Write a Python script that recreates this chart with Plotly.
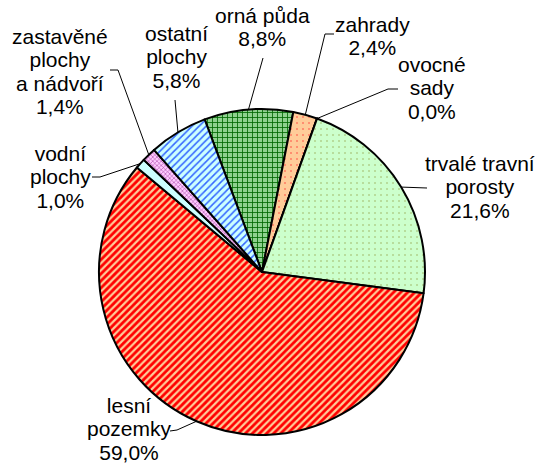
import math
import plotly.graph_objects as go

# ---- data ----
labels = ["orná půda", "zahrady", "ovocné sady", "trvalé travní porosty",
          "lesní pozemky", "vodní plochy", "zastavěné plochy a nádvoří", "ostatní plochy"]
label_lines = [["orná půda"], ["zahrady"], ["ovocné", "sady"], ["trvalé travní", "porosty"],
               ["lesní", "pozemky"], ["vodní", "plochy"], ["zastavěné", "plochy", "a nádvoří"],
               ["ostatní", "plochy"]]
values = [8.8, 2.4, 0.0, 21.6, 59.0, 1.0, 1.4, 5.8]

# ---- styles / layout ----
W, H = 542, 463
CX, CY, R = 262, 272, 163
START = -20.6  # degrees clockwise from 12 o'clock where the first slice starts

patterns = [
    dict(shape="+", fgcolor="#006600", bgcolor="#8FD18F", size=5, solidity=0.3),
    dict(shape=".", fgcolor="#FF3333", bgcolor="#FFCC99", size=6, solidity=0.05),
    dict(shape="", fgcolor="#99CC66", bgcolor="#CCFFCC", size=6, solidity=0.1),
    dict(shape=".", fgcolor="#99AA55", bgcolor="#CCFFCC", size=6, solidity=0.05),
    dict(shape="/", fgcolor="#FF0000", bgcolor="#FFCC99", size=5, solidity=0.55),
    dict(shape="", fgcolor="#CCFFFF", bgcolor="#CCFFFF", size=6, solidity=0.1),
    dict(shape="x", fgcolor="#993399", bgcolor="#FFCCFF", size=3, solidity=0.3),
    dict(shape="/", fgcolor="#3366FF", bgcolor="#CCFFFF", size=5, solidity=0.3),
]
colors = [p["bgcolor"] for p in patterns]

# label text block centres (pixels) and leader elbow points (pixels), None = straight
label_pos = [(262, 27), (372, 36), (432, 88), (480, 187), (129, 429), (60, 177), (60, 71), (176, 57)]
leader_start = [(263, 58), (334, 34), (398, 89), (427, 188), (170, 431), (92, 177), (110, 70), (175, 100)]
leader_elbow = [None, (325, 34), (388, 89), None, (177, 430), (100, 177), (118, 70), None]

def px(x):
    return x / W

def py(y):
    return 1 - y / H

fig = go.Figure(go.Pie(
    labels=labels, values=values, sort=False, direction="clockwise",
    rotation=START, textinfo="none", hoverinfo="none", showlegend=False,
    marker=dict(colors=colors, line=dict(color="black", width=2),
                pattern=dict(shape=[p["shape"] for p in patterns],
                             fgcolor=[p["fgcolor"] for p in patterns],
                             bgcolor=[p["bgcolor"] for p in patterns],
                             size=[p["size"] for p in patterns],
                             solidity=[p["solidity"] for p in patterns],
                             fillmode="replace")),
    domain=dict(x=[px(CX - R), px(CX + R)], y=[py(CY + R), py(CY - R)]),
))

total = sum(values)
cum = 0
annotations = []
shapes = []
for i, v in enumerate(values):
    mid = START + (cum + v / 2) / total * 360
    cum += v
    ex = CX + R * math.sin(math.radians(mid))
    ey = CY - R * math.cos(math.radians(mid))
    pct = f"{v:.1f}".replace(".", ",") + "%"
    lines = label_lines[i] + [pct]
    text = "<br>".join(f'<span style="font-size:21px">{l}</span>' for l in lines)
    lx, ly = label_pos[i]
    annotations.append(dict(x=px(lx), y=py(ly), xref="paper", yref="paper", text=text,
                            showarrow=False, xanchor="center", yanchor="middle",
                            font=dict(family="Liberation Sans, Arial", size=18, color="black")))
    pts = [leader_start[i]]
    if leader_elbow[i]:
        pts.append(leader_elbow[i])
    pts.append((ex, ey))
    path = "M " + " L ".join(f"{px(a)},{py(b)}" for a, b in pts)
    shapes.append(dict(type="path", xref="paper", yref="paper", path=path,
                       line=dict(color="black", width=1)))

fig.update_layout(width=W, height=H, margin=dict(l=0, r=0, t=0, b=0),
                  paper_bgcolor="white", plot_bgcolor="white",
                  annotations=annotations, shapes=shapes)
fig.write_html("out.html", config={"displayModeBar": False, "staticPlot": True},
               post_script="document.body.style.margin='0';document.body.style.overflow='hidden';")
